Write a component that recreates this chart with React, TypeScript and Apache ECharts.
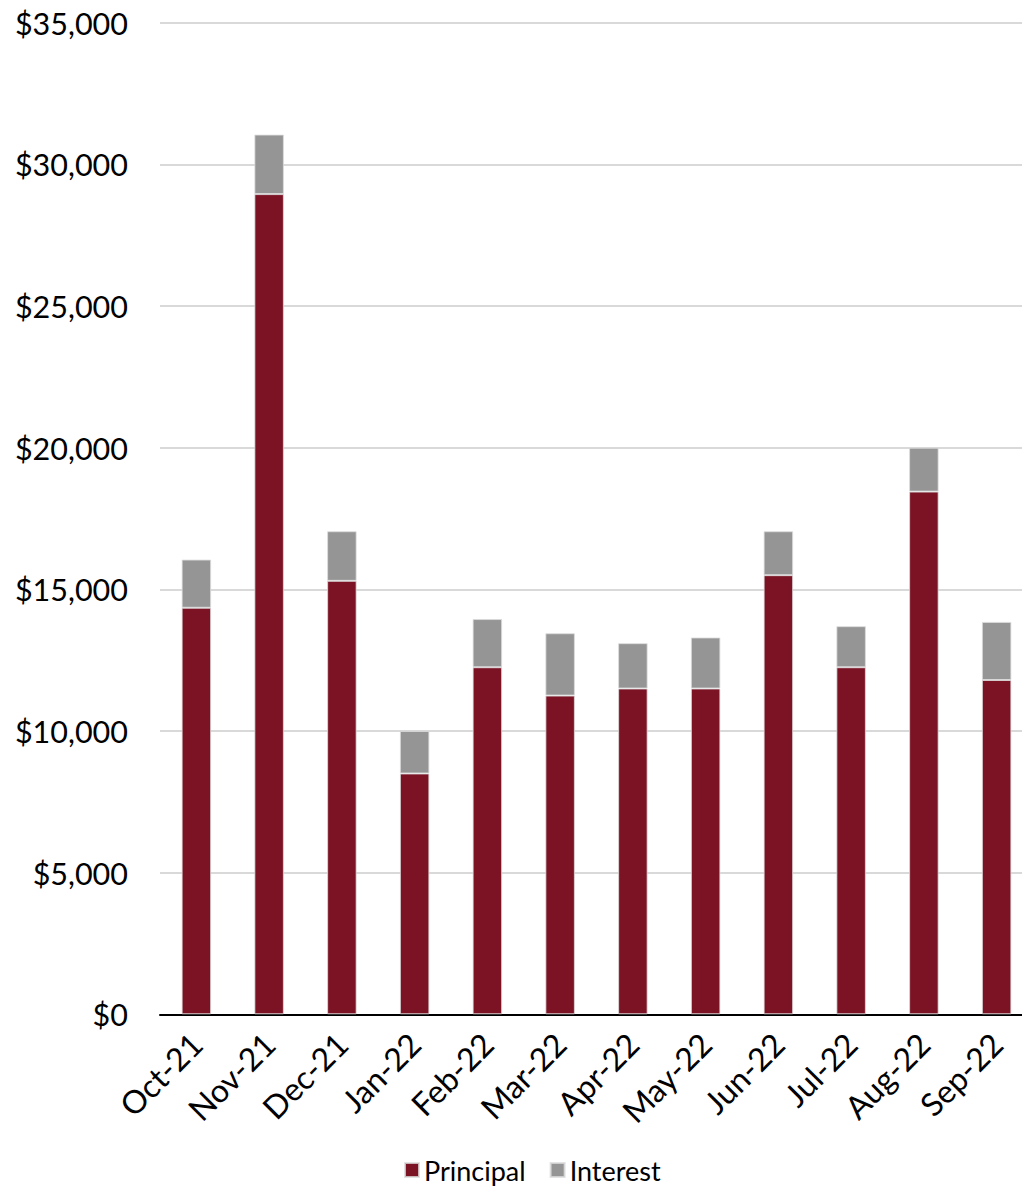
import React, { useEffect, useRef } from "react";
import * as echarts from "echarts";

const categories = ["Oct-21", "Nov-21", "Dec-21", "Jan-22", "Feb-22", "Mar-22", "Apr-22", "May-22", "Jun-22", "Jul-22", "Aug-22", "Sep-22"];
const principal = [14350, 28950, 15300, 8500, 12250, 11250, 11500, 11500, 15500, 12250, 18450, 11800];
const interest = [1700, 2100, 1750, 1500, 1700, 2200, 1600, 1800, 1550, 1450, 1550, 2050];
const yTicks = { min: 0, max: 35000, interval: 5000 };

const FONT = "Lato";

export default function App() {
  const ref = useRef<HTMLDivElement>(null);
  useEffect(() => {
    if (!ref.current) return;
    const chart = echarts.init(ref.current, null, { renderer: "svg" });
    chart.setOption({
      animation: false,
      textStyle: { fontFamily: FONT },
      grid: { left: 160, right: 0, top: 22.7, bottom: 173.7, containLabel: false },
      legend: {
        top: 1155,
        left: 404,
        padding: 0,
        itemWidth: 14,
        itemHeight: 14,
        itemGap: 24,
        icon: "rect",
        textStyle: { fontFamily: FONT, fontSize: 27, lineHeight: 30, color: "#000" },
        data: ["Principal", "Interest"],
      },
      xAxis: {
        type: "category",
        data: categories,
        axisLine: { show: true, lineStyle: { color: "#000", width: 2 } },
        axisTick: { show: false },
        axisLabel: { rotate: 45, fontSize: 32, color: "#000", margin: 24, fontFamily: FONT, interval: 0 },
      },
      yAxis: {
        type: "value",
        min: yTicks.min,
        max: yTicks.max,
        interval: yTicks.interval,
        axisLine: { show: false },
        axisTick: { show: false },
        splitLine: { lineStyle: { color: "#d9d9d9", width: 2 } },
        axisLabel: {
          fontSize: 30.5,
          color: "#000",
          margin: 32,
          fontFamily: FONT,
          formatter: (v: number) => "$" + v.toLocaleString("en-US"),
        },
      },
      series: [
        {
          name: "Principal",
          type: "bar",
          stack: "total",
          data: principal,
          barWidth: 29.5,
          itemStyle: { color: "#7B1324", borderColor: "rgba(220,220,220,0.8)", borderWidth: 1 },
        },
        {
          name: "Interest",
          type: "bar",
          stack: "total",
          data: interest,
          barWidth: 29.5,
          itemStyle: { color: "#959595", borderColor: "rgba(220,220,220,0.8)", borderWidth: 1 },
        },
      ],
    });
    return () => chart.dispose();
  }, []);
  return (
    <div style={{ position: "absolute", left: 0, top: 0, width: 1022, height: 1188, overflow: "hidden", background: "#fff" }}>
      <div ref={ref} style={{ width: 1033, height: 1188 }} />
    </div>
  );
}
